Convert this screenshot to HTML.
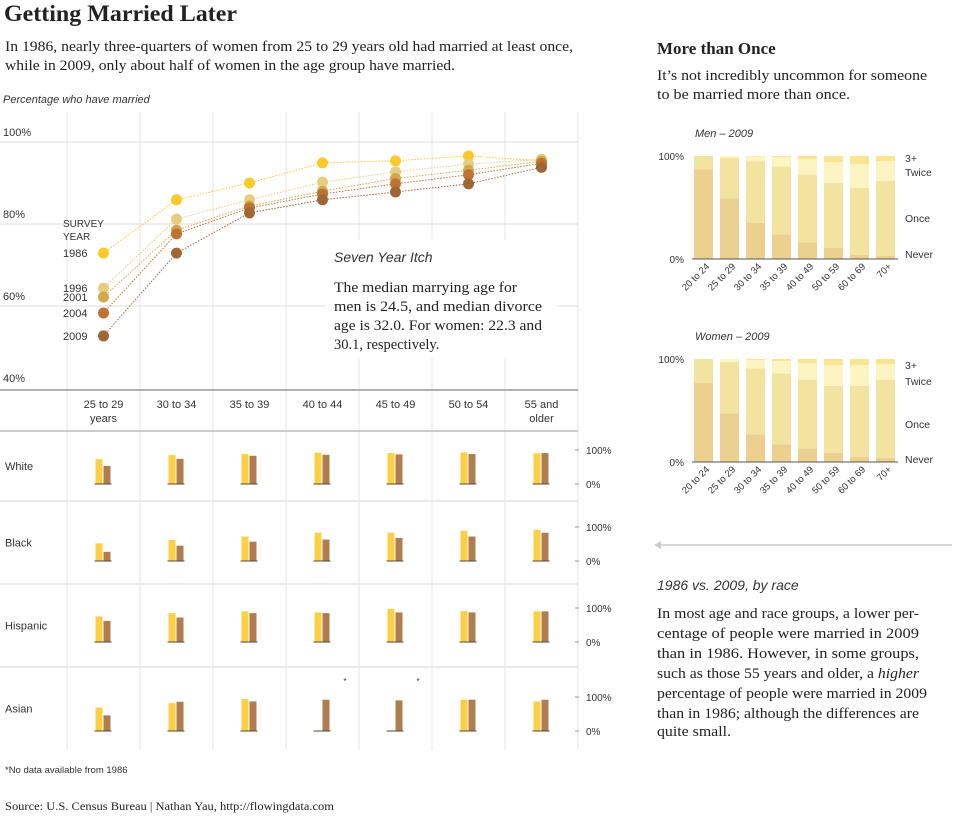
<!DOCTYPE html>
<html><head><meta charset="utf-8"><style>
html,body{margin:0;padding:0;background:#fff;}
svg{display:block;}
.serif{font-family:"Liberation Serif",serif;fill:#222;}
.sans{font-family:"Liberation Sans",sans-serif;fill:#333;}
</style></head><body>
<svg id="chart" width="954" height="817" viewBox="0 0 954 817" xmlns="http://www.w3.org/2000/svg">
<text class="serif" x="4" y="21" font-size="23" font-weight="bold" textLength="233" lengthAdjust="spacingAndGlyphs">Getting Married Later</text>
<text class="serif" x="5" y="51" font-size="15" textLength="568" lengthAdjust="spacingAndGlyphs">In 1986, nearly three-quarters of women from 25 to 29 years old had married at least once,</text>
<text class="serif" x="5" y="70" font-size="15" textLength="450" lengthAdjust="spacingAndGlyphs">while in 2009, only about half of women in the age group have married.</text>
<text class="sans" x="3" y="103" font-size="11" font-style="italic">Percentage who have married</text>

<g id="linechart"></g>
<g id="racegrid"></g>
<g id="stack-men"></g>
<g id="stack-women"></g>

<text class="serif" x="657" y="54" font-size="17" font-weight="bold">More than Once</text>
<text class="serif" x="657" y="80" font-size="15" textLength="270" lengthAdjust="spacingAndGlyphs">It’s not incredibly uncommon for someone</text>
<text class="serif" x="657" y="99" font-size="15" textLength="193" lengthAdjust="spacingAndGlyphs">to be married more than once.</text>
<text class="sans" x="695" y="137" font-size="11" font-style="italic">Men – 2009</text>
<text class="sans" x="695" y="340" font-size="11" font-style="italic">Women – 2009</text>

<g>
<line x1="656" y1="545" x2="952" y2="545" stroke="#ccc" stroke-width="1.5"/>
<path d="M654,545 L661,541 L661,549 Z" fill="#ccc"/>
</g>
<text class="sans" x="657" y="590" font-size="14" font-style="italic">1986 vs. 2009, by race</text>
<g class="serif" font-size="15">
<text x="657" y="618" textLength="262" lengthAdjust="spacingAndGlyphs">In most age and race groups, a lower per-</text>
<text x="657" y="638" textLength="262" lengthAdjust="spacingAndGlyphs">centage of people were married in 2009</text>
<text x="657" y="658" textLength="262" lengthAdjust="spacingAndGlyphs">than in 1986. However, in some groups,</text>
<text x="657" y="678" textLength="262" lengthAdjust="spacingAndGlyphs">such as those 55 years and older, a <tspan font-style="italic">higher</tspan></text>
<text x="657" y="698" textLength="270" lengthAdjust="spacingAndGlyphs">percentage of people were married in 2009</text>
<text x="657" y="718" textLength="262" lengthAdjust="spacingAndGlyphs">than in 1986; although the differences are</text>
<text x="657" y="736" textLength="74" lengthAdjust="spacingAndGlyphs">quite small.</text>
</g>
<text class="sans" x="5" y="773" font-size="9.5">*No data available from 1986</text>
<text class="serif" x="5" y="810" font-size="12" textLength="329" lengthAdjust="spacingAndGlyphs">Source: U.S. Census Bureau | Nathan Yau, http://flowingdata.com</text>
</svg>
<script>
const NS="http://www.w3.org/2000/svg";
function mk(parent,tag,attrs,text){const e=document.createElementNS(NS,tag);for(const k in attrs)e.setAttribute(k,attrs[k]);if(text!==undefined)e.textContent=text;parent.appendChild(e);return e;}

// ---------- Line chart data ----------
const ageGroups=["25 to 29|years","30 to 34","35 to 39","40 to 44","45 to 49","50 to 54","55 and|older"];
const surveyYears=["1986","1996","2001","2004","2009"];
const yearColors=["#fcc92b","#e8cd80","#d3a84c","#bd7432","#9f6636"];
const married1986=[72.9,85.9,90.0,94.9,95.4,96.6,95.4];
const married1996=[64.4,81.2,85.9,90.2,92.7,94.6,95.8];
const married2001=[62.2,78.5,84.4,88.0,91.1,93.1,95.3];
const married2004=[58.3,77.6,83.9,87.3,89.8,92.0,94.8];
const married2009=[52.7,72.9,82.7,85.9,87.8,89.8,93.8];
const lineSeries=[married1986,married1996,married2001,married2004,married2009];
const yTicks=[40,60,80,100];

const colLeft=67,colW=73;
const xCol=i=>colLeft+colW*i+colW/2;
const yPct=v=>388-(v-40)*4.1;

const lc=document.getElementById('linechart');
for(let i=0;i<=7;i++){
  const l=mk(lc,'line',{x1:colLeft+colW*i,y1:112,x2:colLeft+colW*i,y2:750,stroke:'#e6e6e6','stroke-width':1});
  
  
}
yTicks.forEach(t=>{
  const y=yPct(t);
  if(t>40){const g=mk(lc,'line',{x1:0,y1:y,x2:578,y2:y,stroke:'#ddd','stroke-width':1});
    
    }
  const tx=mk(lc,'text',{x:3,y:y-6,'font-size':11,class:'sans',fill:'#444'},t+'%');
  
  
});
mk(lc,'rect',{x:325,y:240,width:232,height:118,fill:'#fff'});
const ann1=mk(lc,'text',{x:334,y:262,'font-size':14,'font-style':'italic',class:'sans',fill:'#222'},'Seven Year Itch');


["The median marrying age for","men is 24.5, and median divorce","age is 32.0. For women: 22.3 and","30.1, respectively."].forEach((s,i)=>{
  const t=mk(lc,'text',{x:334,y:292+i*19,'font-size':14.5,class:'serif'},s);
  if(i<3){t.setAttribute('textLength',[183,208,208][i]);t.setAttribute('lengthAdjust','spacingAndGlyphs');}
  
  
});
mk(lc,'line',{x1:0,y1:390,x2:578,y2:390,stroke:'#999','stroke-width':1.5});
mk(lc,'line',{x1:0,y1:431,x2:578,y2:431,stroke:'#bbb','stroke-width':1.5});
ageGroups.forEach((g,i)=>{
  const parts=g.split('|');
  parts.forEach((p,j)=>{
    const t=mk(lc,'text',{x:xCol(i),y:408+j*14,'font-size':11,'text-anchor':'middle',class:'sans',fill:'#222'},p);
    
    
  });
});
for(let s=0;s<lineSeries.length;s++){
  const vals=lineSeries[s];
  const pts=vals.map((v,i)=>xCol(i)+','+yPct(v)).join(' ');
  const pl=mk(lc,'polyline',{points:pts,fill:'none',stroke:yearColors[s],'stroke-width':1,'stroke-dasharray':'1.5,1.5'});
  
  
}
for(let s=0;s<lineSeries.length;s++){
  lineSeries[s].forEach((v,i)=>{
    const c=mk(lc,'circle',{cx:xCol(i),cy:yPct(v),r:5.5,fill:yearColors[s]});
    
    
  });
  const lab=mk(lc,'text',{x:63,y:yPct(lineSeries[s][0])+4,'font-size':11,class:'sans',fill:yearColors[s]},surveyYears[s]);
  
  
}
const sv=mk(lc,'text',{x:63,y:227,'font-size':10,class:'sans',fill:'#222'},'SURVEY');


const sv2=mk(lc,'text',{x:63,y:240,'font-size':10,class:'sans',fill:'#222'},'YEAR');



// ---------- Race grid data ----------
const races=["White","Black","Hispanic","Asian"];
const white1986=[73,85,88,92,91,93,90];
const white2009=[53,74,83,86,87,88,91];
const black1986=[52,62,72,83,83,89,92];
const black2009=[27,45,57,63,68,72,83];
const hispanic1986=[75,85,90,87,97,91,90];
const hispanic2009=[62,72,85,85,87,87,90];
const asian1986=[69,82,94,null,null,92,87];
const asian2009=[46,86,87,92,90,92,92];
const race1986=[white1986,black1986,hispanic1986,asian1986];
const race2009=[white2009,black2009,hispanic2009,asian2009];
const rowTop=[431,501,584,667];
const rowBase=[484,561,642,731];
const barH=34;

const rg=document.getElementById('racegrid');
races.forEach((r,ri)=>{
  if(ri>0){const sep=mk(rg,'line',{x1:0,y1:rowTop[ri],x2:578,y2:rowTop[ri],stroke:'#e4e4e4','stroke-width':1.5});
    
    }
  const b=rowBase[ri];
  const lab=mk(rg,'text',{x:5,y:(rowTop[ri]+(rowTop[ri+1]||750))/2+4,'font-size':11,class:'sans',fill:'#222'},r);
  
  
  [[100,'100%'],[0,'0%']].forEach(([v,s])=>{
    const y=b-v/100*barH;
    mk(rg,'line',{x1:575,y1:y,x2:579,y2:y,stroke:'#999'});
    const t=mk(rg,'text',{x:586,y:y+4,'font-size':10,class:'sans',fill:'#333'},s);
    
    
  });
  for(let i=0;i<7;i++){
    const cx=xCol(i);
    const v1=race1986[ri][i],v2=race2009[ri][i];
    if(v1!==null){const bar=mk(rg,'rect',{x:cx-8,y:b-v1/100*barH,width:7,height:v1/100*barH,fill:'#fdd043'});
      
      }
    else{const st=mk(rg,'text',{x:cx+21,y:b-47,'font-size':8,class:'sans',fill:'#222'},'*');
      
      }
    const bar2=mk(rg,'rect',{x:cx,y:b-v2/100*barH,width:7,height:v2/100*barH,fill:'#af7d4e'});
    
    
    mk(rg,'line',{x1:cx-9,y1:b,x2:cx+8,y2:b,stroke:'#5a4330','stroke-width':1});
  }
});

// ---------- Stacked charts ----------
const stackCats=["20 to 24","25 to 29","30 to 34","35 to 39","40 to 49","50 to 59","60 to 69","70+"];
const stackLevels=["Never","Once","Twice","3+"];
const stackColors=["#ebd08f","#f2e3a1","#fcf5c2","#fbe593"];
const menNever=[87,59,35,24,16,11,4,3];
const menOnce=[100,98,95,90,82,74,69,76];
const menTwice=[100,100,99.5,99,97,94,92,95];
const menThree=[100,100,100,100,100,100,100,100];
const womenNever=[77,47,27,17,13,9,5,4];
const womenOnce=[100,97,91,86,80,74,74,80];
const womenTwice=[100,100,99,98,96,94,94,95];
const womenThree=[100,100,100,100,100,100,100,100];

function stack(id,top,base,series,labelYs){
  const g=document.getElementById(id);
  const h=base-top;
  const yv=v=>base-v/100*h;
  stackCats.forEach((c,i)=>{
    const x=694+i*26;
    let prev=0;
    series.forEach((s,k)=>{
      const v=s[i];
      if(v>prev){const r=mk(g,'rect',{x:x,y:yv(v),width:19,height:yv(prev)-yv(v),fill:stackColors[k]});
        
        }
      prev=Math.max(prev,v);
    });
    const t=mk(g,'text',{x:0,y:0,'font-size':9.5,class:'sans',fill:'#333','text-anchor':'end',transform:`translate(${x+16},${base+8}) rotate(-45)`},c);
    
    
  });
  mk(g,'line',{x1:692,y1:base,x2:898,y2:base,stroke:'#555','stroke-width':1});
  const a=mk(g,'text',{x:684,y:yv(100)+4,'font-size':10,class:'sans','text-anchor':'end'},'100%');
  
  
  const b=mk(g,'text',{x:684,y:base+4,'font-size':10,class:'sans','text-anchor':'end'},'0%');
  
  
  ["3+","Twice","Once","Never"].forEach((s,k)=>{
    const t=mk(g,'text',{x:905,y:labelYs[k],'font-size':10.5,class:'sans',fill:'#222'},s);
    
    
  });
}
stack('stack-men',156,259,[menNever,menOnce,menTwice,menThree],[162,176,222,258]);
stack('stack-women',359,462,[womenNever,womenOnce,womenTwice,womenThree],[369,385,428,463]);
</script>
</body></html>
